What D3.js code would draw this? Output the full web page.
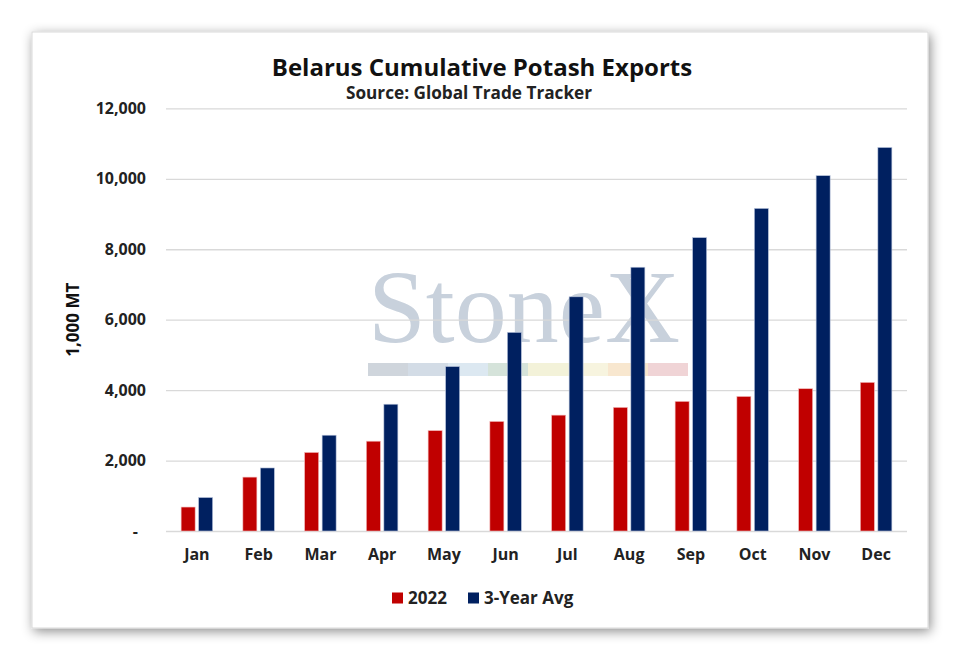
<!DOCTYPE html>
<html>
<head>
<meta charset="utf-8">
<script src="https://cdn.jsdelivr.net/npm/d3@7"></script>
<style>
  html, body { margin: 0; padding: 0; background: #fff; }
  svg { display: block; font-family: "Open Sans", Lato, sans-serif; }
</style>
</head>
<body>
<div id="chart"></div>
<script>
// data (1,000 MT, cumulative)
const months = ['Jan', 'Feb', 'Mar', 'Apr', 'May', 'Jun', 'Jul', 'Aug', 'Sep', 'Oct', 'Nov', 'Dec'];
const series = ['2022', '3-Year Avg'];
const values2022 = [680, 1530, 2230, 2550, 2850, 3110, 3290, 3510, 3680, 3820, 4040, 4220];
const valuesAvg = [950, 1790, 2720, 3600, 4670, 5640, 6650, 7490, 8330, 9160, 10090, 10890];
const yTicks = [0, 2000, 4000, 6000, 8000, 10000, 12000];
const colors = ['#c00000', '#002060'];

const width = 963;
const height = 664;
const frame = { x: 32, y: 32, w: 896, h: 596 };
const plot = { left: 166, right: 907, top: 108.4, bottom: 531 };

const rows = months.map((m, i) => ({ month: m, values: [values2022[i], valuesAvg[i]] }));

const svg = d3.select('#chart')
  .append('svg')
  .attr('width', width)
  .attr('height', height);

// drop shadow for the framed chart
const defs = svg.append('defs');
const shadow = defs.append('filter')
  .attr('id', 'shadow')
  .attr('x', '-10%').attr('y', '-10%')
  .attr('width', '120%').attr('height', '120%');
shadow.append('feDropShadow')
  .attr('dx', 2).attr('dy', 3)
  .attr('stdDeviation', 6)
  .attr('flood-color', '#000')
  .attr('flood-opacity', 0.45);

svg.append('rect')
  .attr('x', frame.x).attr('y', frame.y)
  .attr('width', frame.w).attr('height', frame.h)
  .attr('fill', '#fff')
  .attr('stroke', '#d9d9d9')
  .attr('filter', 'url(#shadow)');

// watermark
const wm = svg.append('g');
wm.append('text')
  .attr('x', 368).attr('y', 342)
  .attr('font-family', '"Liberation Serif", "DejaVu Serif", serif')
  .attr('font-size', 104)
  .attr('fill', '#c8d1dc')
  .text('StoneX');
const stripe = ['#cfd5dc', '#d3dce6', '#dce8f1', '#d5e3da', '#f3f2d9', '#f7f4df', '#f8e7cf', '#f0d4d6'];
wm.selectAll('rect')
  .data(stripe)
  .join('rect')
  .attr('x', (_, i) => 368 + i * 40)
  .attr('y', 363)
  .attr('width', 40)
  .attr('height', 13)
  .attr('fill', (d) => d);

// scales
const x = d3.scaleBand()
  .domain(months)
  .range([plot.left, plot.right])
  .paddingInner(0.49)
  .paddingOuter(0.245);

const xs = d3.scaleBand()
  .domain(series)
  .range([0, x.bandwidth()])
  .paddingInner(0.2);

const y = d3.scaleLinear()
  .domain([0, 12000])
  .range([plot.bottom, plot.top]);

// gridlines
svg.append('g')
  .attr('transform', `translate(${plot.left},0)`)
  .call(d3.axisLeft(y).tickValues(yTicks).tickSize(-(plot.right - plot.left)).tickFormat(''))
  .call((g) => g.select('.domain').remove())
  .call((g) => g.selectAll('.tick line').attr('stroke', '#d9d9d9').attr('stroke-width', 1.3));

// y axis labels
svg.append('g')
  .attr('transform', `translate(${plot.left - 20},0)`)
  .call(d3.axisLeft(y).tickValues(yTicks).tickSize(0).tickPadding(0)
    .tickFormat((d) => (d === 0 ? '-' : d3.format(',')(d))))
  .call((g) => g.select('.domain').remove())
  .call((g) => g.selectAll('.tick text')
    .attr('font-family', '"Open Sans", sans-serif')
    .attr('font-size', 16)
    .attr('font-weight', 700)
    .attr('fill', '#222')
    .attr('dx', (d) => (d === 0 ? -8 : 0)));

svg.append('text')
  .attr('transform', `translate(79,${(plot.top + plot.bottom) / 2}) rotate(-90)`)
  .attr('text-anchor', 'middle')
  .attr('font-size', 17)
  .attr('font-weight', 700)
  .attr('fill', '#111')
  .text('1,000 MT');

// bars
svg.append('g')
  .selectAll('g')
  .data(rows)
  .join('g')
  .attr('transform', (d) => `translate(${x(d.month)},0)`)
  .selectAll('rect')
  .data((d) => d.values.map((v, i) => ({ key: series[i], v, i })))
  .join('rect')
  .attr('x', (d) => xs(d.key))
  .attr('y', (d) => y(d.v))
  .attr('width', xs.bandwidth())
  .attr('height', (d) => y(0) - y(d.v))
  .attr('fill', (d) => colors[d.i])
  .attr('stroke', (d) => (d.i === 0 ? '#f2b8b8' : '#b8c4dc'))
  .attr('stroke-width', 0.6);

// x axis labels
svg.append('g')
  .attr('transform', `translate(0,${plot.bottom})`)
  .call(d3.axisBottom(x).tickSize(0).tickPadding(18))
  .call((g) => g.select('.domain').remove())
  .call((g) => g.selectAll('.tick text')
    .attr('font-family', '"Open Sans", sans-serif')
    .attr('font-size', 16)
    .attr('font-weight', 700)
    .attr('fill', '#222'));

// title
svg.append('text')
  .attr('x', 482).attr('y', 76)
  .attr('text-anchor', 'middle')
  .attr('font-size', 24)
  .attr('font-weight', 700)
  .attr('fill', '#111')
  .text('Belarus Cumulative Potash Exports');
svg.append('text')
  .attr('x', 469).attr('y', 99)
  .attr('text-anchor', 'middle')
  .attr('font-size', 17.2)
  .attr('font-weight', 700)
  .attr('fill', '#222')
  .text('Source: Global Trade Tracker');

// legend
const legend = svg.append('g')
  .attr('transform', 'translate(392,598)')
  .selectAll('g')
  .data(series)
  .join('g')
  .attr('transform', (_, i) => `translate(${i * 76},0)`);
legend.append('rect')
  .attr('x', 0).attr('y', -5.5)
  .attr('width', 11).attr('height', 11)
  .attr('fill', (_, i) => colors[i]);
legend.append('text')
  .attr('x', 16).attr('y', 6)
  .attr('font-size', 17)
  .attr('font-weight', 700)
  .attr('fill', '#222')
  .text((d) => d);
</script>
</body>
</html>
